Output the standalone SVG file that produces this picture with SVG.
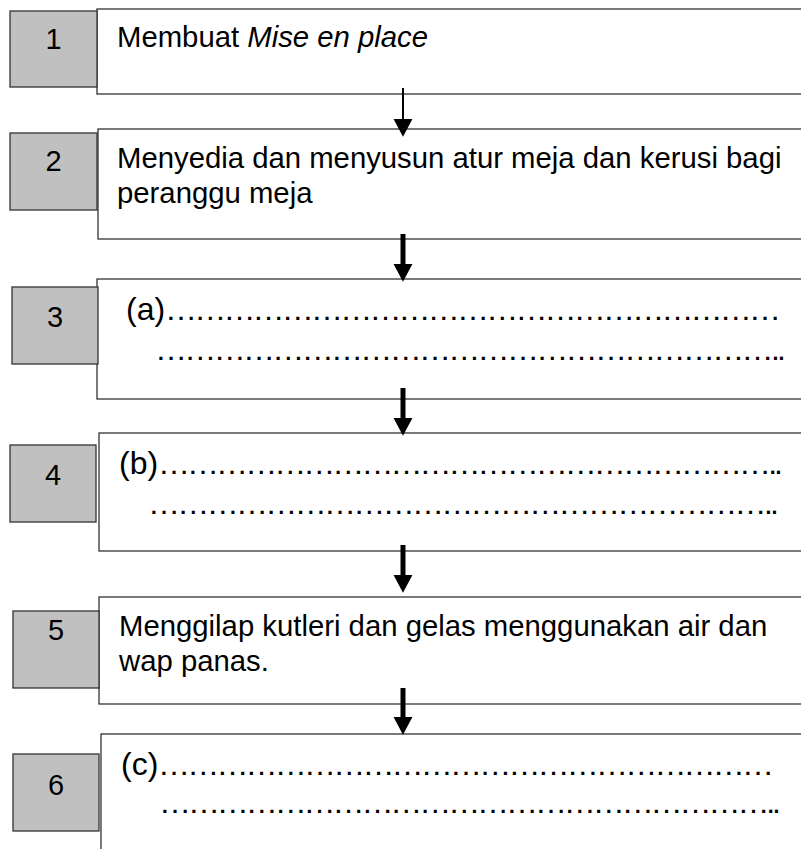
<svg xmlns="http://www.w3.org/2000/svg" width="801" height="849" viewBox="0 0 801 849">
<style>
.num{fill:#c0c0c0;stroke:#333;stroke-width:1.3}
.box{fill:#fff;stroke:#333;stroke-width:1.3}
.t{font-family:"Liberation Sans",Arial,sans-serif;font-size:29.3px;fill:#000}
.d{font-family:"Liberation Sans",Arial,sans-serif;font-size:32px;fill:#000}
.n{font-family:"Liberation Sans",Arial,sans-serif;font-size:29px;fill:#000;text-anchor:middle}
.thin{stroke:#000;stroke-width:2;fill:none}
.thick{stroke:#000;stroke-width:5;fill:none}
</style>
<defs>
<marker id="ah" markerUnits="userSpaceOnUse" markerWidth="20" markerHeight="20" viewBox="0 -9 16 18" refX="0" refY="0" orient="auto">
<path d="M0,-8.5 L16,0 L0,8.5 z" fill="#000"/>
</marker>
</defs>
<rect width="801" height="849" fill="#fff"/>

<g id="step1">
<rect class="box" x="97" y="9" width="720" height="85"/>
<rect class="num" x="10" y="11" width="87" height="76"/>
<text class="n" x="53.5" y="49">1</text>
<text class="t" x="117" y="47">Membuat <tspan font-style="italic">Mise en place</tspan></text>
</g>

<g id="step2">
<rect class="box" x="98" y="129" width="720" height="110"/>
<rect class="num" x="10" y="133" width="87" height="77"/>
<text class="n" x="53.5" y="171">2</text>
<text class="t" x="117" y="168">Menyedia dan menyusun atur meja dan kerusi bagi</text>
<text class="t" x="117" y="203">peranggu meja</text>
</g>

<g id="step3">
<rect class="box" x="97" y="279" width="720" height="120"/>
<rect class="num" x="12" y="287" width="86" height="77"/>
<text class="n" x="55" y="327">3</text>
<text class="d" x="126" y="320">(a)</text>
<text class="d" x="165" y="320" textLength="616" lengthAdjust="spacing">………………………………………………………</text>
<text class="d" x="155" y="360" textLength="631" lengthAdjust="spacing">………………………………………………………..</text>
</g>

<g id="step4">
<rect class="box" x="99" y="433" width="720" height="118"/>
<rect class="num" x="10" y="445" width="86" height="77"/>
<text class="n" x="53" y="485">4</text>
<text class="d" x="119" y="474">(b)</text>
<text class="d" x="158" y="474" textLength="625" lengthAdjust="spacing">………………………………………………………..</text>
<text class="d" x="148" y="514" textLength="631" lengthAdjust="spacing">………………………………………………………..</text>
</g>

<g id="step5">
<rect class="box" x="99" y="597" width="720" height="107"/>
<rect class="num" x="13" y="611" width="86" height="77"/>
<text class="n" x="56" y="640">5</text>
<text class="t" x="119" y="636">Menggilap kutleri dan gelas menggunakan air dan</text>
<text class="t" x="119" y="671">wap panas.</text>
</g>

<g id="step6">
<rect class="box" x="101" y="734" width="720" height="140"/>
<rect class="num" x="13" y="754" width="86" height="77"/>
<text class="n" x="56" y="795">6</text>
<text class="d" x="121" y="775">(c)</text>
<text class="d" x="158" y="775" textLength="616" lengthAdjust="spacing">………………………………………………………</text>
<text class="d" x="159" y="813" textLength="622" lengthAdjust="spacing">………………………………………………………..</text>
</g>

<g id="connectors">
<line class="thin" x1="403" y1="88" x2="403" y2="119" marker-end="url(#ah)"/>
<line class="thick" x1="403" y1="234" x2="403" y2="264" marker-end="url(#ah)"/>
<line class="thick" x1="403" y1="388" x2="403" y2="418" marker-end="url(#ah)"/>
<line class="thick" x1="403" y1="545" x2="403" y2="575" marker-end="url(#ah)"/>
<line class="thick" x1="403" y1="688" x2="403" y2="717" marker-end="url(#ah)"/>
</g>
</svg>
